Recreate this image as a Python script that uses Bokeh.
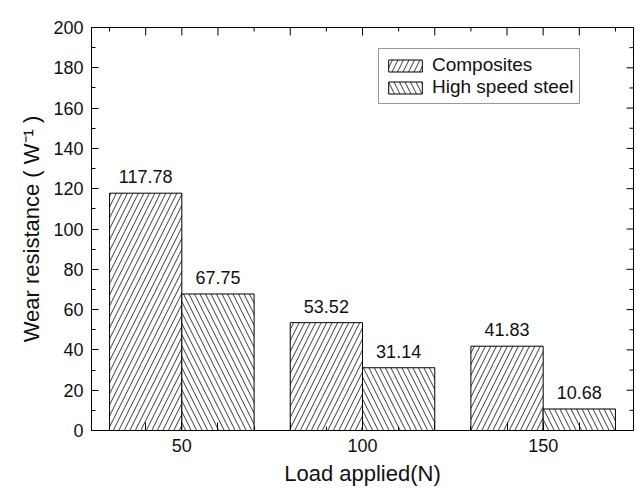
import math
from bokeh.plotting import figure
from bokeh.models import (Range1d, FixedTicker, Legend, LegendItem,
                          ColumnDataSource, LabelSet)
from bokeh.core.properties import value
from bokeh.embed import file_html
from bokeh.resources import INLINE

# ---- data ----
loads = [50, 100, 150]
composites = [117.78, 53.52, 41.83]
steel = [67.75, 31.14, 10.68]
series_names = ["Composites", "High speed steel"]
x_tick_labels = ["50", "100", "150"]

# axis ticks
x_major = [40, 50, 60, 80, 100, 120, 140, 150, 160]
x_minor = [30, 70, 90, 110, 130, 170]
y_major = list(range(0, 201, 20))
y_minor = list(range(10, 200, 20))

FONT = "Liberation Sans"
BAR_W = 20  # in load units
X0, X1 = 25, 175
Y0, Y1 = 0, 200

src = ColumnDataSource(dict(
    xc=[l - BAR_W / 2 for l in loads],
    xs=[l + BAR_W / 2 for l in loads],
    comp=composites,
    steel=steel,
    comp_txt=[f"{v:.2f}" for v in composites],
    steel_txt=[f"{v:.2f}" for v in steel],
))

p = figure(width=636, height=488, output_backend="svg", toolbar_location=None,
           x_range=Range1d(X0, X1), y_range=Range1d(Y0, Y1),
           min_border_left=91, min_border_right=3, min_border_top=27,
           min_border_bottom=57)
p.xgrid.visible = False
p.ygrid.visible = False
p.outline_line_color = "black"
p.outline_line_width = 1
p.background_fill_color = "white"

r1 = p.vbar(x="xc", top="comp", bottom=0, width=BAR_W, source=src,
            fill_color="white", line_color="black", line_width=1,
            hatch_pattern="/", hatch_color="#222222", hatch_scale=11, hatch_weight=0.9)
r2 = p.vbar(x="xs", top="steel", bottom=0, width=BAR_W, source=src,
            fill_color="white", line_color="black", line_width=1,
            hatch_pattern="\\", hatch_color="#222222", hatch_scale=11, hatch_weight=0.9)

for col, yname, txt in (("xc", "comp", "comp_txt"), ("xs", "steel", "steel_txt")):
    p.add_layout(LabelSet(x=col, y=yname, text=txt, source=src, y_offset=10,
                          text_align="center", text_baseline="alphabetic",
                          text_font=value(FONT), text_font_size="18px",
                          text_color="#111111"))

overrides = {t: "" for t in x_major}
for l, lab in zip(loads, x_tick_labels):
    overrides[l] = lab

# bottom axis
xa = p.xaxis[0]
xa.ticker = FixedTicker(ticks=x_major, minor_ticks=x_minor)
xa.major_label_overrides = overrides
xa.axis_label = "Load applied(N)"
xa.major_tick_in = 8
xa.minor_tick_in = 4
xa.major_tick_out = 0
xa.minor_tick_out = 0
xa.major_label_standoff = 8
xa.axis_label_standoff = 6

# left axis
ya = p.yaxis[0]
ya.ticker = FixedTicker(ticks=y_major, minor_ticks=y_minor)
ya.axis_label = "Wear resistance ( W\u207b\u00b9 )"
ya.major_tick_in = 7
ya.minor_tick_in = 4
ya.major_tick_out = 0
ya.minor_tick_out = 0
ya.major_label_standoff = 8
ya.axis_label_standoff = 6

for ax in (xa, ya):
    ax.axis_line_color = "black"
    ax.major_tick_line_color = "black"
    ax.minor_tick_line_color = "black"
    ax.major_label_text_font = FONT
    ax.major_label_text_font_size = "18px"
    ax.major_label_text_color = "#111111"
    ax.axis_label_text_font = FONT
    ax.axis_label_text_font_size = "22px"
    ax.axis_label_text_font_style = "normal"
    ax.axis_label_text_color = "#111111"

# mirrored inward ticks on top and right edges (clipped to the frame)
p.scatter(x=x_major, y=[Y1] * len(x_major), marker="dash", size=16,
          angle=math.pi / 2, line_color="black", line_width=1)
p.scatter(x=x_minor, y=[Y1] * len(x_minor), marker="dash", size=8,
          angle=math.pi / 2, line_color="black", line_width=1)
p.scatter(x=[X1] * len(y_major), y=y_major, marker="dash", size=14,
          line_color="black", line_width=1)
p.scatter(x=[X1] * len(y_minor), y=y_minor, marker="dash", size=8,
          line_color="black", line_width=1)

legend = Legend(items=[LegendItem(label=series_names[0], renderers=[r1]),
                       LegendItem(label=series_names[1], renderers=[r2])],
                location=(287, 326), orientation="vertical",
                glyph_width=42, glyph_height=15, label_standoff=6,
                label_text_font=FONT, label_text_font_size="19px",
                label_text_color="#111111", label_height=22,
                padding=5, spacing=0, margin=0,
                border_line_color="#333333", border_line_width=1,
                background_fill_color="white", background_fill_alpha=1)
p.add_layout(legend, "center")

open("out.html", "w").write(file_html(p, INLINE))
